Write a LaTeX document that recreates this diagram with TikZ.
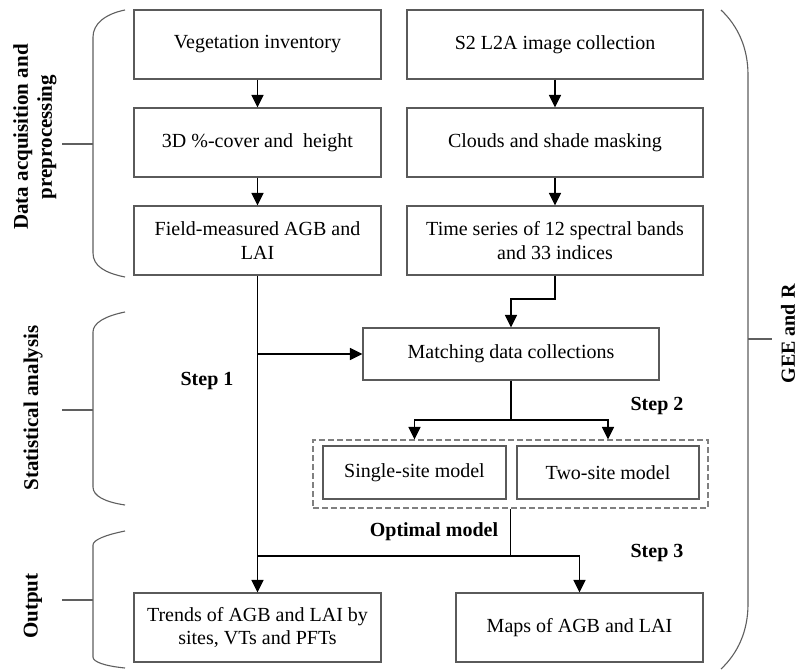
\documentclass[tikz,border=0pt]{standalone}
\usepackage{fontspec}
\setmainfont{Liberation Serif}
\usetikzlibrary{arrows.meta}
\definecolor{boxgray}{HTML}{5A5A5A}
\definecolor{bracegray}{HTML}{5F5F5F}
\definecolor{dashgray}{HTML}{808080}
\begin{document}
\begin{tikzpicture}[x=1pt,y=-1pt,
  box/.style={draw=boxgray, line width=1.1pt, inner sep=0pt, align=center,
    font=\fontsize{20}{23.5}\selectfont},
  conn/.style={line width=1.6pt, black},
  arr/.style={conn, -{Triangle[length=12.5pt,width=12pt]}},
  brace/.style={draw=bracegray, line width=1.1pt},
  lab/.style={font=\fontsize{20}{23.5}\selectfont\bfseries},
  side/.style={font=\fontsize{21}{24}\selectfont\bfseries, rotate=90, align=center}]
\useasboundingbox[fill=white] (0,0) rectangle (799,669);

% boxes
\node[box, minimum width=247pt, minimum height=69pt] (L1) at (257.5,44.5) {Vegetation inventory};
\node[box, minimum width=247pt, minimum height=69pt] (L2) at (257.5,142.5) {3D \%-cover and~ height};
\node[box, minimum width=247pt, minimum height=69pt] (L3) at (257.5,240.5) {Field-measured AGB and\\LAI};
\node[box, minimum width=296pt, minimum height=69pt] (R1) at (555,44.5) {S2 L2A image collection};
\node[box, minimum width=296pt, minimum height=69pt] (R2) at (555,142.5) {Clouds and shade masking};
\node[box, minimum width=296pt, minimum height=69pt] (R3) at (555,240.5) {Time series of 12 spectral bands\\and 33 indices};
\node[box, minimum width=296pt, minimum height=52pt] (M) at (511,354) {Matching data collections};
\node[draw=dashgray, line width=1.1pt, dash pattern=on 6pt off 3pt, minimum width=395pt, minimum height=68pt, inner sep=0pt] (D) at (510.5,474) {};
\node[box, minimum width=183pt, minimum height=53pt] (S) at (414.5,472.5) {Single-site model};
\node[box, minimum width=182pt, minimum height=53pt] (W) at (608,472.5) {Two-site model};
\node[box, minimum width=247pt, minimum height=69pt] (T) at (257.5,627.5) {Trends of AGB and LAI by\\sites, VTs and PFTs};
\node[box, minimum width=247pt, minimum height=69pt] (P) at (579.5,627.5) {Maps of AGB and LAI};

% connectors
\draw[arr] (L1) -- (L2);
\draw[arr] (L2) -- (L3);
\draw[arr] (R1) -- (R2);
\draw[arr] (R2) -- (R3);
\draw[arr] (L3) -- (T);
\draw[arr] (L3.south |- M.west) -- (M.west);
\coordinate (k1) at (0,299);
\draw[arr] (R3.south) -- (R3.south |- k1) -| (M.north);
\coordinate (k2) at (0,420);
\draw[conn] (M.south) -- (M.south |- k2);
\draw[arr] (M.south |- k2) -| (S.north |- D.north);
\draw[arr] (M.south |- k2) -| (W.north |- D.north);
\coordinate (k3) at (0,556);
\draw[conn] (D.south) -- (D.south |- k3) -- (L3.south |- k3);
\draw[arr] (D.south |- k3) -| (P.north);

% labels
\node[lab] (s1) at (207,381) {Step 1};
\node[lab] (s2) at (657,406) {Step 2};
\node[lab] (s3) at (657,553) {Step 3};
\node[lab] (om) at (434,532) {Optimal model};

% side labels
\node[side] (da) at (35,137) {Data acquisition and\\preprocessing};
\node[side] (sa) at (33,408) {Statistical analysis};
\node[side] (ou) at (33,606) {Output};
\node[side, font=\fontsize{20}{24}\selectfont\bfseries] (ge) at (788,334) {GEE and R};

% braces
\draw[brace] (125,10) .. controls (105,14) and (93,24) .. (93,37) -- (93,253) .. controls (93,266) and (105,273) .. (125,277);
\draw[brace] (62,144) -- (93,144);
\draw[brace] (125,312) .. controls (105,316) and (93,323) .. (93,332) -- (93,487) .. controls (93,496) and (105,502) .. (125,505);
\draw[brace] (62,410) -- (93,410);
\draw[brace] (125,531) .. controls (105,535) and (93,540) .. (93,545) -- (93,657) .. controls (93,662) and (105,666) .. (125,668);
\draw[brace] (62,600) -- (93,600);
\draw[brace] (721,10) .. controls (738,26) and (748,48) .. (748,75) -- (748,604) .. controls (748,631) and (738,653) .. (721,669);
\draw[brace] (748,339) -- (772,339);
\end{tikzpicture}
\end{document}
